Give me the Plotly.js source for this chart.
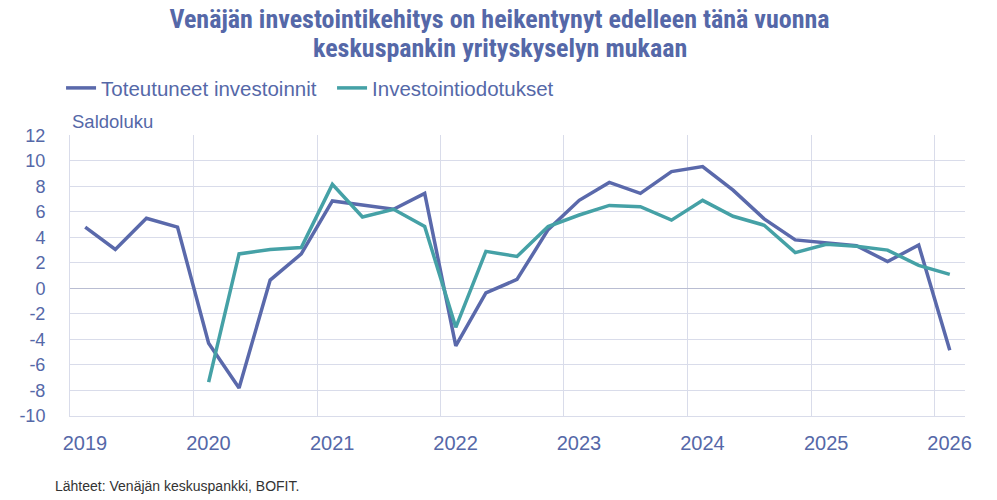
<!DOCTYPE html>
<html>
<head>
<meta charset="utf-8">
<script src="https://cdn.plot.ly/plotly-3.0.1.min.js"></script>
<style>html,body{margin:0;padding:0;background:#fff;}#chart{width:997px;height:500px;}</style>
</head>
<body>
<div id="chart"></div>
<script>
const titleLine1 = 'Venäjän investointikehitys on heikentynyt edelleen tänä vuonna';
const titleLine2 = 'keskuspankin yrityskyselyn mukaan';
const seriesNames = ['Toteutuneet investoinnit', 'Investointiodotukset'];
const yLabel = 'Saldoluku';
const sourceText = 'Lähteet: Venäjän keskuspankki, BOFIT.';

const yTickVals = [12, 10, 8, 6, 4, 2, 0, -2, -4, -6, -8, -10];
const yTickText = ['12', '10', '8', '6', '4', '2', '0', '-2', '-4', '-6', '-8', '-10'];

const datesActual = [
  '2019-02-15','2019-05-15','2019-08-15','2019-11-15',
  '2020-02-15','2020-05-15','2020-08-15','2020-11-15',
  '2021-02-15','2021-05-15','2021-08-15','2021-11-15',
  '2022-02-15','2022-05-15','2022-08-15','2022-11-15',
  '2023-02-15','2023-05-15','2023-08-15','2023-11-15',
  '2024-02-15','2024-05-15','2024-08-15','2024-11-15',
  '2025-02-15','2025-05-15','2025-08-15','2025-11-15',
  '2026-02-15'
];
const actual = [4.8, 3.05, 5.5, 4.8, -4.3, -7.8, 0.65, 2.7, 6.85, 6.5, 6.2, 7.45,
  -4.5, -0.35, 0.7, 4.6, 6.9, 8.3, 7.45, 9.15, 9.55, 7.7, 5.45, 3.8, 3.6, 3.35, 2.1, 3.4, -4.85];

const datesExpect = [
  '2020-02-15','2020-05-15','2020-08-15','2020-11-15',
  '2021-02-15','2021-05-15','2021-08-15','2021-11-15',
  '2022-02-15','2022-05-15','2022-08-15','2022-11-15',
  '2023-02-15','2023-05-15','2023-08-15','2023-11-15',
  '2024-02-15','2024-05-15','2024-08-15','2024-11-15',
  '2025-02-15','2025-05-15','2025-08-15','2025-11-15',
  '2026-02-15'
];
const expect = [-7.35, 2.7, 3.05, 3.2, 8.15, 5.6, 6.2, 4.85, -3.05, 2.9, 2.5, 4.85,
  5.75, 6.5, 6.4, 5.35, 6.9, 5.65, 4.95, 2.8, 3.45, 3.3, 3.0, 1.8, 1.1];

const blue = '#5a69ab';
const teal = '#45a1a6';
const textBlue = '#5568a8';
const grid = '#d9dcea';
const titleFont = {family: 'Roboto Condensed, Liberation Sans Narrow, Liberation Sans, sans-serif', size: 26, color: textBlue, weight: 'bold'};

const traces = [
  {x: datesActual, y: actual, name: seriesNames[0], type: 'scatter', mode: 'lines',
   line: {color: blue, width: 3.5}},
  {x: datesExpect, y: expect, name: seriesNames[1], type: 'scatter', mode: 'lines',
   line: {color: teal, width: 3.5}}
];

const layout = {
  width: 997, height: 500,
  margin: {l: 70, r: 32, t: 135, b: 84},
  paper_bgcolor: '#fff', plot_bgcolor: '#fff',
  font: {family: 'Liberation Sans, Arial, sans-serif', color: textBlue},
  title: {text: titleLine1, x: 0.501, xanchor: 'center', xref: 'container',
    yref: 'container', y: 1 - 19 / 500, yanchor: 'middle', font: titleFont},
  showlegend: true,
  legend: {orientation: 'h', x: -0.01, xanchor: 'left', y: 1.167, yanchor: 'middle',
    bgcolor: 'rgba(0,0,0,0)', font: {size: 20.5, color: textBlue}, itemwidth: 30,
    entrywidth: 226, entrywidthmode: 'pixels', traceorder: 'normal'},
  xaxis: {type: 'date', range: ['2019-01-01', '2026-04-01'],
    tick0: '2019-01-01', dtick: 'M12', tickformat: '%Y',
    showgrid: true, gridcolor: grid, gridwidth: 1,
    showline: true, linecolor: grid, linewidth: 1,
    ticks: '', tickfont: {size: 20, color: textBlue},
    ticklabelshift: 15, ticklabelstandoff: 9, zeroline: false, fixedrange: true},
  yaxis: {range: [-10, 12.02], tickmode: 'array', tickvals: yTickVals, ticktext: yTickText,
    showgrid: true, gridcolor: grid, gridwidth: 1,
    showline: true, linecolor: grid, linewidth: 1,
    zeroline: true, zerolinecolor: '#b9bdd2', zerolinewidth: 1,
    ticks: '', tickfont: {size: 18, color: textBlue},
    ticklabelstandoff: 20, fixedrange: true},
  annotations: [
    {text: titleLine2, xref: 'paper', yref: 'paper', x: (500 - 70) / 895, xanchor: 'center',
     y: (416 - 48) / 281, yanchor: 'middle', showarrow: false, font: titleFont},
    {text: yLabel, xref: 'paper', yref: 'paper', x: 0, xanchor: 'left', y: 1.0, yanchor: 'bottom',
     yshift: 1, showarrow: false, font: {size: 18.5, color: textBlue}},
    {text: sourceText, xref: 'paper', yref: 'paper', x: -0.019, xanchor: 'left', y: -0.248, yanchor: 'middle',
     showarrow: false, font: {size: 14, color: '#333333'}}
  ]
};

Plotly.newPlot('chart', traces, layout, {displayModeBar: false, staticPlot: true});
</script>
</body>
</html>
